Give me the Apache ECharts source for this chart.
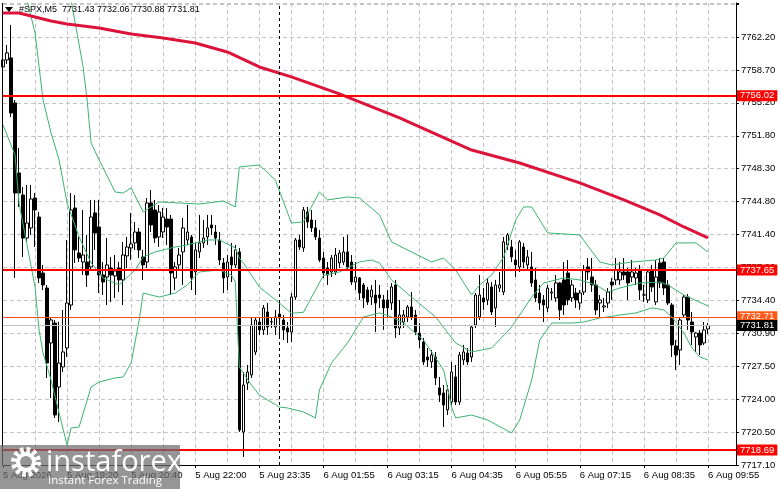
<!DOCTYPE html>
<html><head><meta charset="utf-8">
<script src="https://cdn.jsdelivr.net/npm/echarts@6/dist/echarts.min.js"></script>
<style>html,body{margin:0;padding:0;background:#fff}#c{width:781px;height:489px}</style>
</head><body><div id="c"></div><script>
// ---------- data ----------
const timeLabels = ['5 Aug 2026','5 Aug 19:20','5 Aug 20:40','5 Aug 22:00','5 Aug 23:35','6 Aug 01:55','6 Aug 03:15','6 Aug 04:35','6 Aug 05:55','6 Aug 07:15','6 Aug 08:35','6 Aug 09:55'];
const yTickLabels = ['7717.10','7720.50','7724.00','7727.50','7730.90','7734.40','7737.90','7741.40','7744.80','7748.30','7751.80','7755.20','7758.70','7762.20'];
const title = '#SPX,M5  7731.43 7732.06 7730.88 7731.81';
// [open, close, low, high]
const candles = [
[7759.04,7759.78,7756.83,7763.26],[7759.78,7760.52,7759.36,7761.36],[7759.99,7754.19,7753.77,7763.47],[7755.25,7745.76,7736.81,7755.56],
[7747.87,7745.76,7744.29,7750.51],[7745.55,7741.02,7739.02,7746.40],[7741.02,7742.60,7740.60,7746.61],[7742.08,7745.13,7741.34,7746.61],
[7745.24,7743.97,7740.07,7745.76],[7743.23,7736.81,7736.28,7743.76],[7737.33,7736.07,7735.54,7738.18],[7735.75,7727.85,7726.27,7736.07],
[7729.96,7732.38,7724.16,7732.59],[7732.06,7722.37,7722.06,7732.38],[7725.32,7727.85,7721.63,7732.17],[7727.43,7729.01,7726.90,7733.44],
[7729.43,7734.17,7728.48,7740.81],[7733.96,7743.97,7733.44,7745.76],[7744.18,7739.76,7738.39,7745.55],[7739.44,7738.91,7738.49,7741.13],
[7738.49,7739.23,7737.12,7743.97],[7738.49,7737.12,7735.86,7741.34],[7737.97,7743.23,7737.65,7745.03],[7743.66,7741.55,7739.76,7745.03],
[7742.18,7737.12,7735.22,7745.03],[7737.12,7736.38,7735.01,7738.49],[7736.91,7738.18,7733.96,7741.02],[7737.86,7737.12,7734.28,7739.02],
[7737.02,7737.55,7734.70,7739.23],[7737.86,7736.60,7735.33,7738.49],[7736.60,7739.23,7733.96,7740.60],[7739.13,7740.07,7737.86,7741.13],
[7739.97,7740.39,7738.70,7743.66],[7740.50,7741.65,7739.76,7742.71],[7741.65,7739.76,7738.91,7742.08],[7739.02,7738.18,7736.60,7739.76],
[7738.49,7744.71,7737.86,7745.24],[7744.71,7742.39,7741.65,7746.08],[7743.97,7741.02,7740.50,7745.03],[7741.13,7743.76,7740.07,7744.50],
[7741.65,7743.23,7741.02,7744.18],[7743.02,7742.18,7740.29,7744.18],[7743.02,7737.33,7735.01,7743.45],[7736.81,7737.97,7735.54,7738.49],
[7738.18,7739.23,7737.65,7739.97],[7739.55,7742.08,7736.07,7743.13],[7740.81,7741.65,7740.29,7744.50],[7741.13,7736.81,7735.54,7741.34],
[7737.44,7739.76,7735.01,7740.50],[7739.55,7740.50,7738.91,7743.45],[7740.50,7741.02,7739.97,7742.92],[7741.13,7742.08,7740.29,7743.45],
[7742.39,7742.08,7741.34,7743.45],[7741.65,7741.02,7740.29,7742.39],[7740.81,7738.70,7738.18,7741.65],[7738.39,7736.81,7735.22,7738.91],
[7736.91,7738.49,7735.54,7739.23],[7739.02,7738.18,7736.38,7740.50],[7738.18,7739.76,7737.86,7740.29],[7739.55,7720.79,7720.58,7739.97],
[7720.58,7725.53,7717.95,7726.90],[7725.74,7726.90,7725.01,7727.64],[7726.59,7731.85,7726.27,7732.70],[7729.01,7732.38,7728.69,7732.70],
[7732.17,7731.33,7730.80,7732.59],[7731.33,7733.65,7730.80,7733.96],[7733.22,7731.64,7730.80,7734.17],[7732.17,7732.20,7731.54,7732.59],
[7731.64,7732.70,7730.80,7733.44],[7733.00,7732.59,7730.48,7734.28],[7732.38,7731.33,7730.27,7732.91],[7731.54,7731.12,7729.96,7732.17],
[7731.12,7734.80,7730.06,7735.22],[7734.80,7740.81,7734.49,7741.02],[7740.81,7740.07,7739.76,7741.34],[7739.97,7743.97,7739.55,7744.29],
[7743.76,7742.71,7742.08,7744.29],[7742.92,7742.08,7741.65,7743.97],[7742.08,7741.13,7740.81,7742.92],[7741.02,7738.70,7738.49,7741.87],
[7738.91,7737.33,7736.81,7739.55],[7737.86,7737.12,7736.07,7738.49],[7737.44,7738.91,7736.91,7739.23],[7737.44,7739.23,7737.12,7739.97],
[7738.39,7739.44,7737.86,7739.76],[7738.49,7739.55,7738.18,7741.13],[7739.55,7737.97,7737.65,7741.34],[7738.49,7736.38,7736.07,7739.23],
[7736.38,7736.91,7735.54,7738.49],[7736.81,7735.22,7734.49,7736.91],[7736.07,7734.70,7733.65,7736.28],[7735.54,7734.28,7733.96,7735.86],
[7734.80,7735.54,7733.96,7736.07],[7735.01,7734.17,7731.12,7736.60],[7735.01,7734.70,7733.65,7736.07],[7734.49,7733.65,7731.33,7735.01],
[7734.49,7733.65,7732.59,7735.54],[7734.17,7735.86,7733.44,7736.28],[7736.07,7731.54,7730.48,7736.60],[7731.54,7732.91,7730.80,7734.49],
[7732.17,7732.91,7731.54,7733.44],[7732.70,7733.75,7732.17,7733.96],[7733.75,7732.70,7732.38,7735.33],[7732.91,7731.12,7730.80,7733.44],
[7731.00,7730.27,7729.43,7732.06],[7730.06,7727.96,7727.64,7730.48],[7728.48,7728.17,7727.43,7729.43],[7727.96,7728.69,7727.32,7729.22],
[7728.48,7726.27,7725.53,7729.01],[7725.22,7724.48,7723.74,7726.38],[7724.69,7723.42,7721.11,7725.53],[7722.90,7725.01,7722.37,7725.53],
[7723.74,7726.90,7723.42,7727.96],[7726.38,7723.74,7723.42,7727.64],[7723.74,7728.69,7723.42,7729.01],[7728.17,7729.01,7727.64,7729.75],
[7728.90,7727.96,7727.64,7729.43],[7728.48,7731.64,7727.96,7731.85],[7731.85,7735.01,7731.54,7735.22],[7732.70,7735.01,7732.38,7737.12],
[7734.70,7734.28,7733.44,7735.75],[7734.49,7736.28,7733.96,7736.81],[7735.86,7733.22,7732.91,7736.38],[7733.65,7736.07,7731.64,7736.60],
[7735.75,7736.07,7735.33,7737.44],[7735.33,7740.60,7735.01,7741.13],[7740.29,7741.34,7739.76,7741.55],[7740.07,7739.02,7738.49,7740.81],
[7738.70,7738.18,7736.91,7739.76],[7737.97,7740.60,7737.44,7740.81],[7740.07,7738.49,7737.86,7740.50],[7738.18,7739.02,7737.65,7739.76],
[7737.97,7736.28,7735.86,7739.55],[7736.60,7734.70,7734.28,7737.86],[7735.22,7734.17,7733.44,7736.07],[7734.49,7733.96,7732.17,7735.01],
[7733.65,7735.75,7733.22,7736.07],[7735.22,7735.33,7734.49,7735.75],[7734.70,7736.28,7734.28,7737.12],[7736.28,7733.44,7732.38,7736.38],
[7736.60,7733.96,7732.91,7738.49],[7737.33,7734.49,7733.96,7738.70],[7734.70,7736.07,7734.28,7736.60],[7735.22,7734.49,7733.65,7735.75],
[7734.17,7735.22,7733.44,7735.54],[7735.33,7737.65,7735.01,7738.18],[7737.97,7737.44,7736.60,7738.91],[7736.91,7736.07,7735.33,7738.91],
[7736.07,7733.44,7732.91,7736.60],[7734.17,7734.49,7732.59,7735.01],[7733.75,7733.86,7733.22,7734.70],[7734.17,7735.33,7733.65,7735.75],
[7736.38,7736.07,7734.49,7736.81],[7736.60,7737.65,7736.07,7738.91],[7736.60,7737.44,7736.07,7738.49],[7737.44,7737.12,7736.60,7738.91],
[7737.44,7736.28,7734.49,7737.86],[7736.91,7737.44,7736.38,7738.70],[7736.81,7737.33,7736.07,7737.86],[7737.65,7735.54,7734.49,7738.18],
[7735.01,7735.03,7734.28,7736.07],[7734.49,7737.44,7734.17,7737.65],[7737.65,7735.86,7735.33,7738.18],[7734.28,7736.91,7733.96,7738.70],
[7738.39,7736.28,7735.75,7738.91],[7738.49,7735.75,7735.01,7738.91],[7736.07,7734.17,7733.96,7736.60],[7733.96,7729.75,7728.48,7734.17],
[7729.64,7728.69,7727.11,7730.27],[7729.22,7732.38,7727.64,7732.59],[7732.91,7734.80,7732.59,7735.01],[7734.80,7732.38,7731.33,7735.12],
[7732.17,7731.12,7729.75,7733.22],[7730.59,7731.00,7729.01,7731.12],[7731.00,7729.75,7728.69,7731.33],[7729.96,7731.33,7729.75,7732.17],
[7731.43,7731.81,7730.88,7732.06]
];
// indicator lines, read at sample bars: [bar index, price]
const maLine = [[0,7764.73],[4,7764.73],[8,7764.31],[12,7763.89],[16,7763.57],[24,7763.15],[32,7762.52],[40,7762.10],[48,7761.57],[56,7760.62],[64,7759.04],[72,7757.99],[84,7756.20],[99,7753.67],[117,7750.29],[129,7748.92],[144,7746.82],[155,7745.03],[164,7743.45],[170,7742.18],[176,7741.02]];
const bbUpper = [[15,7771.37],[17,7766.10],[20,7759.04],[21,7755.56],[22,7751.03],[24,7749.24],[28,7745.87],[30,7745.76],[32,7746.29],[35,7743.76],[39,7744.82],[44,7744.71],[49,7744.60],[55,7744.92],[58,7744.29],[59,7748.50],[64,7748.71],[68,7747.13],[72,7742.60],[75,7742.71],[79,7745.87],[81,7745.03],[86,7745.34],[89,7745.24],[94,7743.45],[97,7740.60],[107,7738.49],[110,7738.91],[113,7737.65],[117,7735.01],[119,7736.07],[122,7737.12],[125,7739.02],[128,7742.92],[130,7744.29],[132,7744.29],[136,7741.55],[144,7741.34],[149,7738.49],[152,7738.18],[157,7738.49],[163,7738.70],[165,7738.91],[168,7740.50],[173,7740.50],[176,7739.55]];
const bbMiddle = [[4,7770.84],[6,7766.10],[8,7762.62],[10,7755.56],[12,7752.09],[14,7749.24],[16,7744.71],[19,7741.13],[22,7738.39],[25,7736.81],[29,7736.07],[33,7737.65],[35,7739.02],[38,7739.55],[43,7740.07],[46,7740.29],[51,7740.81],[54,7740.81],[58,7739.97],[59,7738.91],[60,7738.39],[64,7735.86],[69,7734.17],[72,7733.09],[75,7733.19],[80,7737.07],[84,7737.44],[89,7738.49],[92,7738.70],[94,7738.39],[97,7736.60],[102,7734.80],[108,7732.70],[113,7729.96],[117,7729.01],[122,7729.43],[127,7731.64],[132,7734.80],[135,7736.28],[138,7736.60],[140,7736.81],[144,7736.60],[148,7736.07],[151,7735.33],[154,7735.75],[159,7736.28],[164,7736.38],[166,7736.07],[170,7735.01],[176,7733.86]];
const bbLower = [[0,7752.93],[3,7749.77],[4,7744.71],[8,7735.86],[9,7731.33],[10,7728.90],[12,7726.06],[14,7722.58],[16,7719.21],[17,7721.00],[19,7721.11],[22,7725.32],[24,7725.85],[28,7726.27],[30,7726.38],[32,7727.85],[34,7732.38],[35,7735.22],[39,7734.80],[43,7735.22],[46,7736.07],[49,7737.44],[54,7737.65],[57,7737.12],[58,7736.38],[59,7727.43],[62,7725.53],[64,7724.48],[69,7723.21],[71,7723.11],[75,7722.69],[78,7722.06],[79,7725.01],[82,7727.85],[86,7729.96],[90,7732.70],[94,7733.12],[97,7732.70],[100,7732.06],[105,7730.27],[110,7727.11],[112,7723.21],[113,7722.06],[117,7722.37],[121,7721.84],[127,7720.47],[129,7721.84],[132,7726.06],[134,7730.27],[137,7732.06],[142,7732.06],[145,7732.17],[149,7732.59],[151,7732.70],[154,7732.91],[158,7733.12],[162,7733.65],[165,7733.44],[167,7732.70],[170,7731.01],[172,7729.43],[174,7728.48],[176,7728.17]];
const levelValues = [7756.02, 7737.65, 7718.69, 7732.71, 7731.81];
const separatorBar = 69;

// ---------- layout / style ----------
const FONT = 'Liberation Sans';
const yMin = 7717.1, yStep = 3.46923, yMax = 7765.78;
const totalSlots = 184;
const cats = [];
for (let i = 0; i < totalSlots; i++) cats.push(String(i));
const levelStyles = [
  {line:'#ff0000', width:2, bg:'#ff0000', fg:'#ffffff'},
  {line:'#ff0000', width:2, bg:'#ff0000', fg:'#ffffff'},
  {line:'#ff0000', width:2, bg:'#ff0000', fg:'#ffffff'},
  {line:'#ff4a10', width:1, bg:'#ff5a1a', fg:'#ffffff'},
  {line:'#c0c0c0', width:1, bg:'#000000', fg:'#ffffff'}
];
const gridDash = {color:'#c4c4c4', type:[4,3], width:1};
const green = '#3cb371';

const chart = echarts.init(document.getElementById('c'), null, {renderer:'canvas'});
chart.setOption({
  animation:false,
  backgroundColor:'#ffffff',
  grid:{left:3, right:45, top:3, bottom:24, containLabel:false},
  xAxis:{
    type:'category', data:cats, boundaryGap:false,
    axisLine:{show:true, lineStyle:{color:'#000', width:1}},
    axisTick:{show:true, length:3, interval:(i)=> i%16===0 && i<=176, lineStyle:{color:'#000'}},
    axisLabel:{show:true, interval:(i)=> i%16===0 && i<=176, formatter:(v,i)=> timeLabels[Math.round(i/16)] || '',
      align:'left', color:'#000', fontSize:9.5, fontFamily:FONT, margin:5},
    splitLine:{show:true, interval:(i)=> i%8===0 && i>0, lineStyle:gridDash}
  },
  yAxis:{
    type:'value', position:'right', min:yMin, max:yMax, interval:yStep, scale:true,
    axisLine:{show:true, lineStyle:{color:'#000', width:1}},
    axisTick:{show:true, length:3, lineStyle:{color:'#000'}},
    axisLabel:{color:'#000', fontSize:9.5, fontFamily:FONT, margin:5,
      formatter:(v)=>{ const k = Math.round((v-yMin)/yStep); if (Math.abs(v-(yMin+k*yStep))>0.01) return ''; return yTickLabels[k] || ''; }},
    splitLine:{show:true, lineStyle:gridDash}
  },
  series:[
    {type:'candlestick', data:candles, barWidth:3, z:2, silent:true,
      itemStyle:{color:'#ffffff', color0:'#000000', borderColor:'#000000', borderColor0:'#000000', borderWidth:1},
      markLine:{symbol:'none', silent:true, animation:false, label:{show:false},
        data:[{xAxis:separatorBar, lineStyle:{color:'#000', type:[3,3], width:1}}]}},
    {type:'line', data:bbUpper, showSymbol:false, silent:true, z:3, lineStyle:{color:green, width:1}},
    {type:'line', data:bbMiddle, showSymbol:false, silent:true, z:3, lineStyle:{color:green, width:1}},
    {type:'line', data:bbLower, showSymbol:false, silent:true, z:3, lineStyle:{color:green, width:1}},
    {type:'line', data:maLine, showSymbol:false, silent:true, z:4, lineStyle:{color:'#dc143c', width:3}},
    {type:'line', data:[], z:5, silent:true,
      markLine:{symbol:'none', silent:true, animation:false,
        data: levelValues.map((v,k)=>({yAxis:v,
          lineStyle:{color:levelStyles[k].line, width:levelStyles[k].width, type:'solid'},
          label:{show:true, position:'end', distance:1, formatter:v.toFixed(2), color:levelStyles[k].fg,
            backgroundColor:levelStyles[k].bg, padding:[1,3,0,3], fontSize:9.5, fontFamily:FONT}}))}}
  ],
  graphic:[
    {type:'line', shape:{x1:2.5, y1:3, x2:2.5, y2:465}, style:{stroke:'#000', lineWidth:1}, z:10},
    {type:'polygon', shape:{points:[[5,7],[13,7],[9,12]]}, style:{fill:'#000'}, z:10},
    {type:'text', x:19, y:10, style:{text:title, fill:'#000', font:'9px "Liberation Sans"', textVerticalAlign:'middle'}, z:10},
    {type:'rect', shape:{x:0, y:445, width:180, height:44}, style:{fill:'rgba(110,110,110,0.72)'}, z:100},
    {type:'circle', shape:{cx:26, cy:462, r:12}, style:{fill:'none', stroke:'#ffffff', lineWidth:6, lineDash:[3.5,2.8]}, z:101},
    {type:'circle', shape:{cx:26, cy:462, r:8}, style:{fill:'none', stroke:'#ffffff', lineWidth:4}, z:101},
    {type:'text', x:46, y:463, style:{text:'instaforex', fill:'#ffffff', font:'29px "Open Sans"', textVerticalAlign:'middle'}, z:101},
    {type:'text', x:48, y:481, style:{text:'Instant Forex Trading', fill:'#ffffff', font:'11.5px "Open Sans"', textVerticalAlign:'middle'}, z:101}
  ]
});
</script></body></html>
